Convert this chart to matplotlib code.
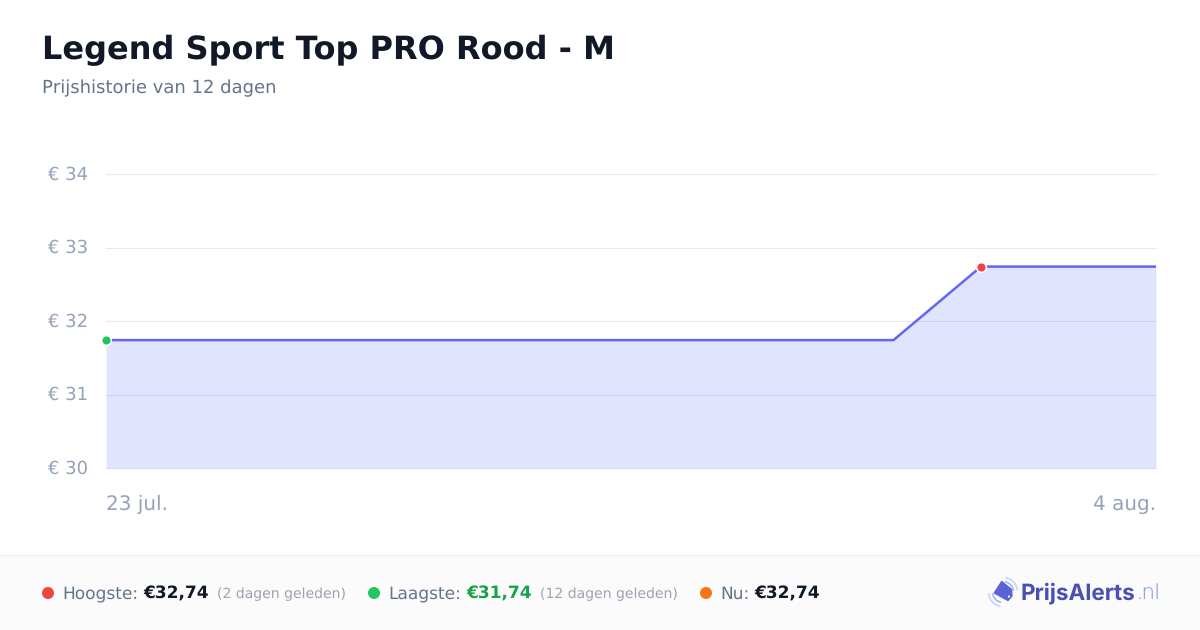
import numpy as np
import matplotlib
matplotlib.use("Agg")
import matplotlib.pyplot as plt
from matplotlib.patches import Rectangle, Polygon, Arc, Circle

# prices per day, day 0 = 23 jul.
days = [0, 1, 2, 3, 4, 5, 6, 7, 8, 9, 10, 11, 12]
prices = [31.74, 31.74, 31.74, 31.74, 31.74, 31.74, 31.74, 31.74, 31.74, 31.74, 32.74, 32.74, 32.74]
y_ticks = [30, 31, 32, 33, 34]
y_labels = ["€ 30", "€ 31", "€ 32", "€ 33", "€ 34"]
x_labels = ["23 jul.", "4 aug."]
low_day = 0
high_day = 10

W, H = 1200, 630
plt.rcParams['font.family'] = 'DejaVu Sans'
plt.rcParams['text.hinting'] = 'no_hinting'
plt.rcParams['text.hinting_factor'] = 1

fig = plt.figure(figsize=(12, 6.3), dpi=100, facecolor='white')

# overlay in pixel coordinates for title, footer and logo
bg = fig.add_axes([0, 0, 1, 1])
bg.set_xlim(0, W)
bg.set_ylim(H, 0)
bg.axis('off')

bg.add_patch(Rectangle((0, 555), W, 75, facecolor='#fbfbfc', edgecolor='none'))
bg.plot([0, W], [554.5, 554.5], color='#f1f2f4', lw=0.75)

bg.text(42, 50, "Legend Sport Top PRO Rood - M", fontsize=23.04, fontweight='bold',
        color='#111827', va='center', ha='left')
bg.text(42, 88, "Prijshistorie van 12 dagen", fontsize=12.96, color='#64748b', va='center', ha='left')

# chart
ax = fig.add_axes([106 / W, (H - 468) / H, 1050 / W, 294 / H])
ax.set_xlim(days[0], days[-1])
ax.set_ylim(30, 34)
ax.patch.set_alpha(0)
for s in ax.spines.values():
    s.set_visible(False)
ax.set_xticks([])
ax.set_yticks(y_ticks)
ax.set_yticklabels([])
ax.tick_params(axis='y', length=0)
ax.grid(axis='y', color='#e8e9ed', lw=0.75, clip_on=False)
ax.set_axisbelow(True)
for v, lab in zip(y_ticks, y_labels):
    ax.annotate(lab, (0, v), xycoords=('axes fraction', 'data'), xytext=(-41.8, -0.5),
                textcoords='offset points', fontsize=12.96, color='#94a3b8', ha='left', va='center')

ax.fill_between(days, prices, 30, color='#6478ff', alpha=0.2, lw=0)
ax.plot(days, prices, color='#6366f1', lw=1.8, solid_joinstyle='round')
ax.plot(days[low_day], prices[low_day], 'o', ms=7, mfc='#22c55e', mec='white', mew=1.1, clip_on=False, zorder=5)
ax.plot(days[high_day], prices[high_day], 'o', ms=7, mfc='#ef4444', mec='white', mew=1.1, clip_on=False, zorder=5)

ax.text(0, -0.122, x_labels[0], transform=ax.transAxes, fontsize=14.4, color='#94a3b8', ha='left', va='center')
ax.text(1, -0.122, x_labels[1], transform=ax.transAxes, fontsize=14.4, color='#94a3b8', ha='right', va='center')

# footer stats
fy = 593
def stat(dot_x, dot_col, label, x1, value, x2, val_col, extra=None, x3=None):
    bg.add_patch(Circle((dot_x, fy), 6, facecolor=dot_col, edgecolor='none'))
    bg.text(x1, fy + 1, label, fontsize=12.24, color='#64748b', va='center', ha='left')
    bg.text(x2, fy + 1, value, fontsize=12.24, fontweight='bold', color=val_col, va='center', ha='left')
    if extra:
        bg.text(x3, fy + 1, extra, fontsize=10.08, color='#9ca3af', va='center', ha='left')

stat(48, '#ef4444', "Hoogste:", 62, "€32,74", 143, '#111827', "(2 dagen geleden)", 217)
stat(374, '#22c55e', "Laagste:", 388, "€31,74", 466, '#16a34a', "(12 dagen geleden)", 540)
stat(706, '#f97316', "Nu:", 720, "€32,74", 754, '#111827')

# logo
for r, col in [(10.5, '#a5b4fc'), (14.5, '#c7d2fe')]:
    bg.add_patch(Arc((1003, 592), 2 * r, 2 * r, theta1=-80, theta2=-5, color=col, lw=1.2))
    bg.add_patch(Arc((1003, 592), 2 * r, 2 * r, theta1=100, theta2=175, color=col, lw=1.2))
bg.add_patch(Polygon([[1001.7, 581.5], [994.3, 593], [1008, 600.5], [1012, 596], [1011.5, 589.5]],
                     closed=True, facecolor='#5b63d3', edgecolor='#5b63d3', lw=1, joinstyle='round', zorder=3))
bg.add_patch(Circle((1009, 596.5), 1.1, facecolor='white', edgecolor='none', zorder=4))
bg.text(1021, 593, "PrijsAlerts", fontsize=16.2, fontweight='bold', family='Inter',
        color='#4a4fb5', va='center', ha='left')
bg.text(1137, 593, ".nl", fontsize=15.6, family='Inter', fontweight='light', color='#8ea2f0', va='center', ha='left')

fig.savefig("out.png", dpi=100)
